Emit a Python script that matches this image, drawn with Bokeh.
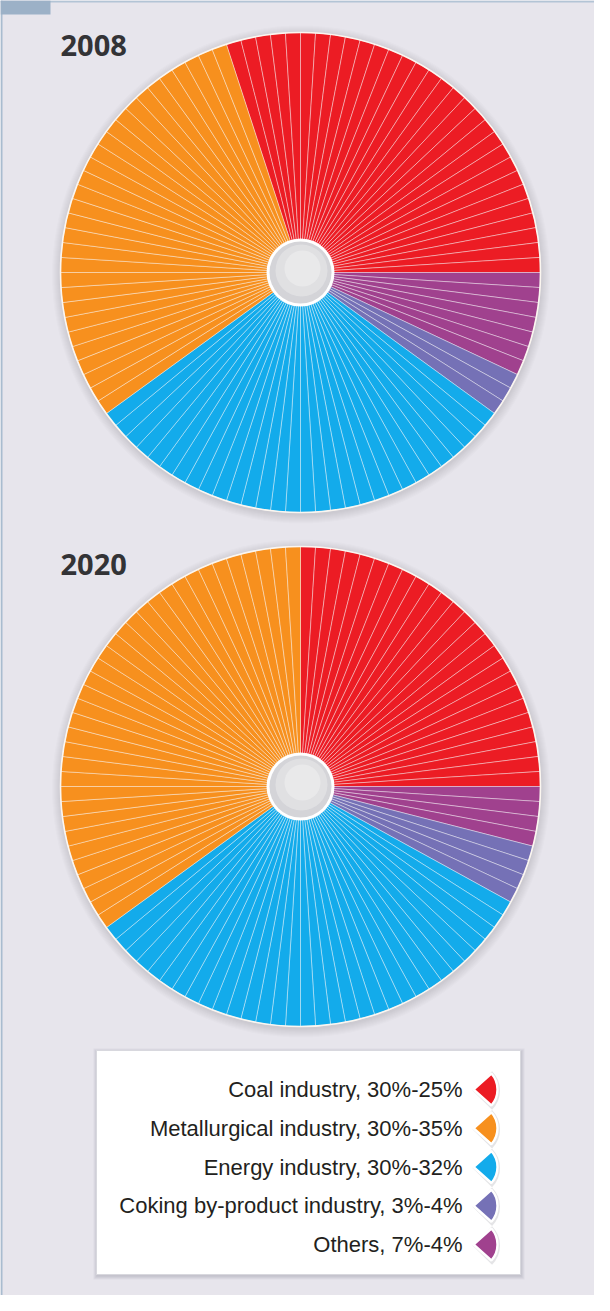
import numpy as np
from bokeh.plotting import figure
from bokeh.models import Range1d, ColumnDataSource
from bokeh.embed import file_html
from bokeh.resources import INLINE
from bokeh.core.properties import value

# ---------------- data ----------------
categories = ["Coal industry", "Metallurgical industry", "Energy industry",
              "Coking by-product industry", "Others"]
share_2008 = [30, 30, 30, 3, 7]
share_2020 = [25, 35, 32, 4, 4]
years = ["2008", "2020"]
colors = ["#EC1C24", "#F7901E", "#13ABEB", "#7571B6", "#A0418E"]
# clockwise order of the slices, starting from the top of the coal slice
clockwise_order = [0, 4, 3, 2, 1]

# ---------------- layout (pixels of the page) ----------------
W, H = 594, 1295
PAGE_H = 1311


def Y(sy):
    return PAGE_H - sy


p = figure(width=W, height=H, output_backend="svg", toolbar_location=None,
           x_range=Range1d(8, 8 + W), y_range=Range1d(PAGE_H - 8 - H, PAGE_H - 8),
           x_axis_type=None, y_axis_type=None, min_border=0,
           background_fill_color="#E7E5EC", border_fill_color="#E7E5EC",
           outline_line_color=None)
p.grid.visible = False

# frame decorations
p.quad(left=[8], right=[10], bottom=[Y(1303)], top=[Y(8)], fill_color="#A9BCCF", line_color=None)
p.quad(left=[8], right=[602], bottom=[Y(10)], top=[Y(8)], fill_color="#B3C4D5", line_color=None)
p.quad(left=[8], right=[58], bottom=[Y(22)], top=[Y(8)], fill_color="#9CB1C7", line_color=None)

pies = [
    dict(year=years[0], shares=share_2008, cx=308, cy=280, title_y=53),
    dict(year=years[1], shares=share_2020, cx=308, cy=794, title_y=572),
]
R_OUT, R_IN = 240, 33
step = 2 * np.pi / 100

for pie in pies:
    cx, cy = pie["cx"], Y(pie["cy"])
    shares = pie["shares"]
    # soft shadow
    for k in range(1, 10):
        p.circle(x=[cx + 0.5], y=[cy - 2], radius=R_OUT + k, fill_color="#45445A",
                 fill_alpha=0.016, line_color=None)
    # 1% slices
    theta0 = shares[0] * step
    starts, ends, cols = [], [], []
    cum = 0
    for ci in clockwise_order:
        for _ in range(shares[ci]):
            a = theta0 - cum * step
            starts.append(a - step)
            ends.append(a)
            cols.append(colors[ci])
            cum += 1
    src = ColumnDataSource(dict(x=[cx] * len(starts), y=[cy] * len(starts),
                                s=starts, e=ends, c=cols))
    p.annular_wedge(x="x", y="y", inner_radius=R_IN, outer_radius=R_OUT,
                    start_angle="s", end_angle="e", fill_color="c",
                    line_color="white", line_alpha=0.45, line_width=0.9, source=src)
    # outer rim
    p.circle(x=[cx], y=[cy], radius=R_OUT, fill_color=None, line_color="#FBF6F0",
             line_width=1.6)
    # hole
    p.circle(x=[cx], y=[cy], radius=R_IN + 1, fill_color="white", line_color=None)
    p.circle(x=[cx], y=[cy], radius=R_IN - 2, fill_color="#D4D4D8", line_color=None)
    p.circle(x=[cx + 1], y=[cy + 2], radius=R_IN - 7, fill_color="#E2E2E5",
             fill_alpha=0.8, line_color=None)
    p.circle(x=[cx + 2], y=[cy + 4], radius=R_IN - 15, fill_color="#ECECEE",
             fill_alpha=0.7, line_color=None)
    # year title
    p.text(x=[68], y=[Y(pie["title_y"])], text=[pie["year"]],
           text_font=value("Open Sans"), text_font_style="bold",
           text_font_size="29px", text_color="#333336",
           text_align="left", text_baseline="middle")

# ---------------- legend ----------------
LX0, LX1, LY0, LY1 = 104, 528, 1058, 1282
for k in range(1, 5):
    p.quad(left=[LX0 - k + 1], right=[LX1 + k], bottom=[Y(LY1 + k + 1)], top=[Y(LY0 - k + 2)],
           fill_color="#404050", fill_alpha=0.05, line_color=None)
p.quad(left=[LX0], right=[LX1], bottom=[Y(LY1)], top=[Y(LY0)], fill_color="white",
       line_color="#D8D8DE", line_width=1)

labels = [f"{c}, {a}%-{b}%" for c, a, b in zip(categories, share_2008, share_2020)]
row_y = [Y(1097 + i * 38.75) for i in range(len(categories))]
p.text(x=[470] * len(labels), y=row_y, text=labels,
       text_font=value("Liberation Sans"), text_font_size="22px",
       text_color="#231F20", text_align="right", text_baseline="middle")
# wedge-shaped legend markers
p.wedge(x=[480] * len(labels), y=[y - 1 for y in row_y], radius=27.5,
        start_angle=-0.78, end_angle=0.78, fill_color="#555566", fill_alpha=0.16,
        line_color=None)
p.wedge(x=[481] * len(labels), y=row_y, radius=24, start_angle=-0.73, end_angle=0.73,
        fill_color=colors, line_color="white", line_width=2.4)

open("out.html", "w").write(file_html(p, INLINE))
